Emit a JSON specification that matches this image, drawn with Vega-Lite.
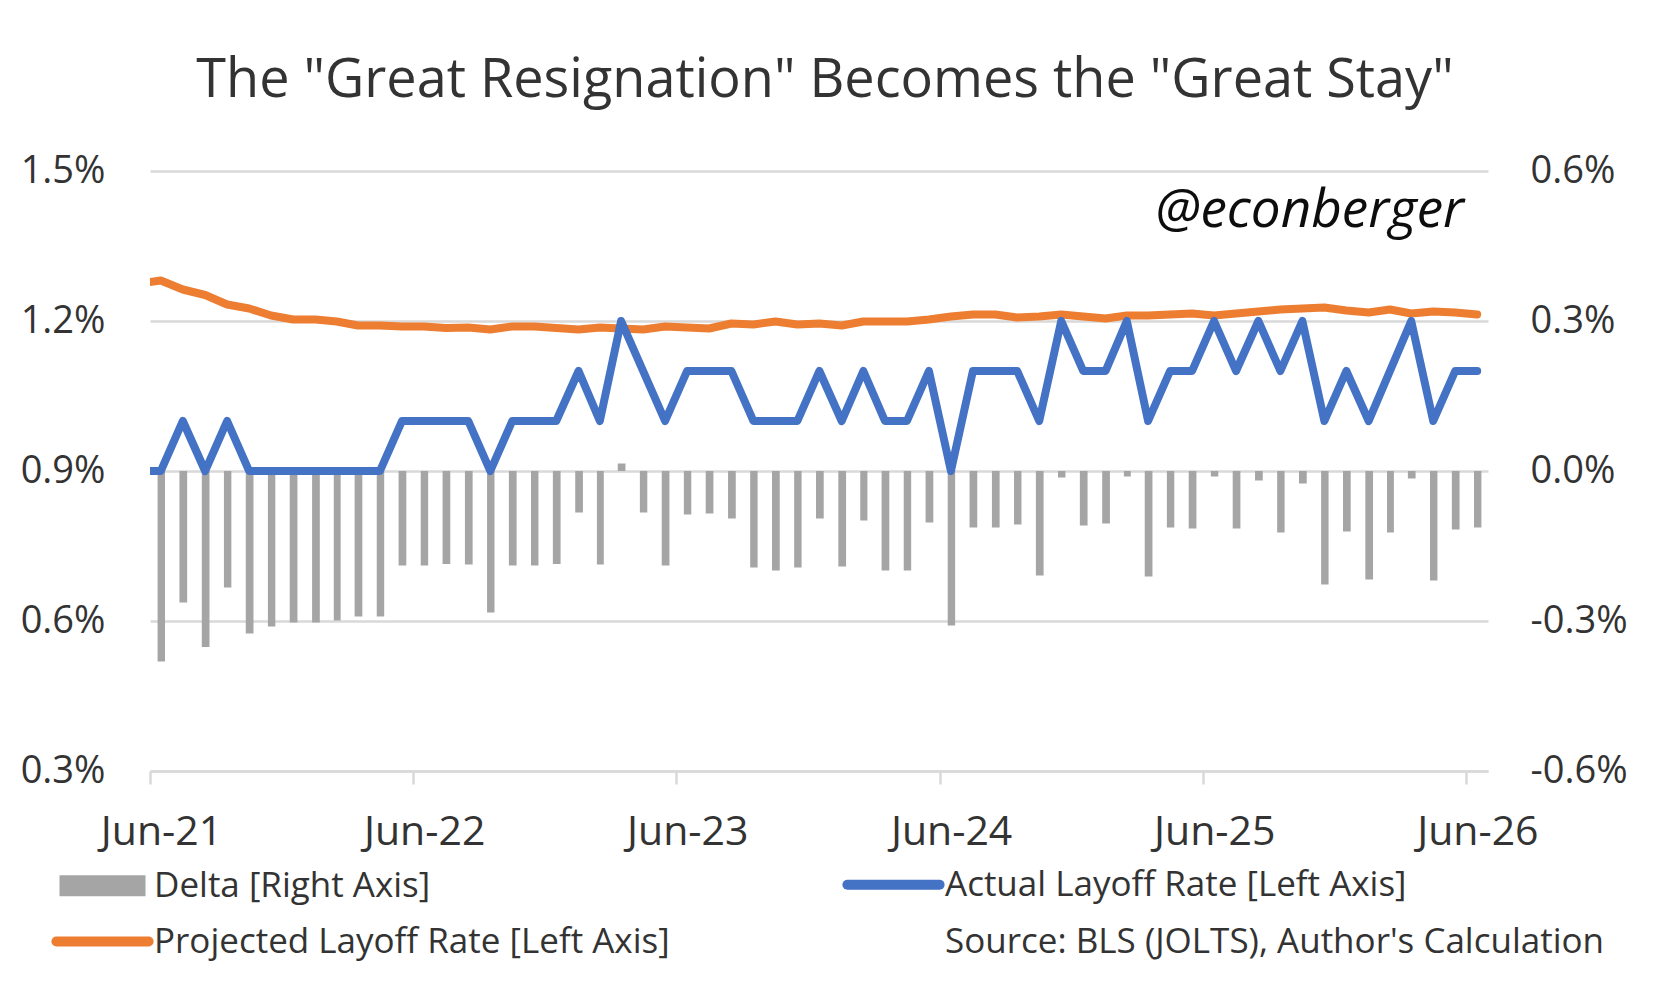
{
  "$schema": "https://vega.github.io/schema/vega-lite/v6.json",
  "width": 1338,
  "height": 600,
  "autosize": "none",
  "padding": {"left": 150, "top": 171, "right": 165, "bottom": 222},
  "background": "white",
  "title": {
    "text": "The \"Great Resignation\" Becomes the \"Great Stay\"",
    "font": "Open Sans",
    "fontSize": 54,
    "fontWeight": "normal",
    "color": "#333333",
    "anchor": "middle",
    "baseline": "alphabetic",
    "offset": 1,
    "dx": 6
  },
  "config": {
    "view": {"stroke": null},
    "font": "Open Sans",
    "axis": {
      "labelFont": "Open Sans",
      "labelFontSize": 38,
      "labelColor": "#333333",
      "title": null
    }
  },
  "data": {
    "values": [
      {"m": "2021-05-01", "actual": 0.009, "projected": 0.01275, "delta": null},
      {"m": "2021-06-01", "actual": 0.009, "projected": 0.01281, "delta": -0.00381},
      {"m": "2021-07-01", "actual": 0.010, "projected": 0.01263, "delta": -0.00263},
      {"m": "2021-08-01", "actual": 0.009, "projected": 0.01252, "delta": -0.00352},
      {"m": "2021-09-01", "actual": 0.010, "projected": 0.01233, "delta": -0.00233},
      {"m": "2021-10-01", "actual": 0.009, "projected": 0.01225, "delta": -0.00325},
      {"m": "2021-11-01", "actual": 0.009, "projected": 0.01211, "delta": -0.00311},
      {"m": "2021-12-01", "actual": 0.009, "projected": 0.01203, "delta": -0.00303},
      {"m": "2022-01-01", "actual": 0.009, "projected": 0.01203, "delta": -0.00303},
      {"m": "2022-02-01", "actual": 0.009, "projected": 0.01199, "delta": -0.00299},
      {"m": "2022-03-01", "actual": 0.009, "projected": 0.01191, "delta": -0.00291},
      {"m": "2022-04-01", "actual": 0.009, "projected": 0.01191, "delta": -0.00291},
      {"m": "2022-05-01", "actual": 0.010, "projected": 0.01189, "delta": -0.00189},
      {"m": "2022-06-01", "actual": 0.010, "projected": 0.01189, "delta": -0.00189},
      {"m": "2022-07-01", "actual": 0.010, "projected": 0.01186, "delta": -0.00186},
      {"m": "2022-08-01", "actual": 0.010, "projected": 0.01187, "delta": -0.00187},
      {"m": "2022-09-01", "actual": 0.009, "projected": 0.01183, "delta": -0.00283},
      {"m": "2022-10-01", "actual": 0.010, "projected": 0.01189, "delta": -0.00189},
      {"m": "2022-11-01", "actual": 0.010, "projected": 0.01189, "delta": -0.00189},
      {"m": "2022-12-01", "actual": 0.010, "projected": 0.01186, "delta": -0.00186},
      {"m": "2023-01-01", "actual": 0.011, "projected": 0.01183, "delta": -0.00083},
      {"m": "2023-02-01", "actual": 0.010, "projected": 0.01187, "delta": -0.00187},
      {"m": "2023-03-01", "actual": 0.012, "projected": 0.01185, "delta": 0.00015},
      {"m": "2023-04-01", "actual": 0.011, "projected": 0.01183, "delta": -0.00083},
      {"m": "2023-05-01", "actual": 0.010, "projected": 0.01189, "delta": -0.00189},
      {"m": "2023-06-01", "actual": 0.011, "projected": 0.01187, "delta": -0.00087},
      {"m": "2023-07-01", "actual": 0.011, "projected": 0.01185, "delta": -0.00085},
      {"m": "2023-08-01", "actual": 0.011, "projected": 0.01195, "delta": -0.00095},
      {"m": "2023-09-01", "actual": 0.010, "projected": 0.01193, "delta": -0.00193},
      {"m": "2023-10-01", "actual": 0.010, "projected": 0.01199, "delta": -0.00199},
      {"m": "2023-11-01", "actual": 0.010, "projected": 0.01193, "delta": -0.00193},
      {"m": "2023-12-01", "actual": 0.011, "projected": 0.01195, "delta": -0.00095},
      {"m": "2024-01-01", "actual": 0.010, "projected": 0.01191, "delta": -0.00191},
      {"m": "2024-02-01", "actual": 0.011, "projected": 0.01199, "delta": -0.00099},
      {"m": "2024-03-01", "actual": 0.010, "projected": 0.01199, "delta": -0.00199},
      {"m": "2024-04-01", "actual": 0.010, "projected": 0.01199, "delta": -0.00199},
      {"m": "2024-05-01", "actual": 0.011, "projected": 0.01203, "delta": -0.00103},
      {"m": "2024-06-01", "actual": 0.009, "projected": 0.01209, "delta": -0.00309},
      {"m": "2024-07-01", "actual": 0.011, "projected": 0.01213, "delta": -0.00113},
      {"m": "2024-08-01", "actual": 0.011, "projected": 0.01213, "delta": -0.00113},
      {"m": "2024-09-01", "actual": 0.011, "projected": 0.01207, "delta": -0.00107},
      {"m": "2024-10-01", "actual": 0.010, "projected": 0.01209, "delta": -0.00209},
      {"m": "2024-11-01", "actual": 0.012, "projected": 0.01213, "delta": -0.00013},
      {"m": "2024-12-01", "actual": 0.011, "projected": 0.01209, "delta": -0.00109},
      {"m": "2025-01-01", "actual": 0.011, "projected": 0.01205, "delta": -0.00105},
      {"m": "2025-02-01", "actual": 0.012, "projected": 0.01211, "delta": -0.00011},
      {"m": "2025-03-01", "actual": 0.010, "projected": 0.01211, "delta": -0.00211},
      {"m": "2025-04-01", "actual": 0.011, "projected": 0.01213, "delta": -0.00113},
      {"m": "2025-05-01", "actual": 0.011, "projected": 0.01215, "delta": -0.00115},
      {"m": "2025-06-01", "actual": 0.012, "projected": 0.01211, "delta": -0.00011},
      {"m": "2025-07-01", "actual": 0.011, "projected": 0.01215, "delta": -0.00115},
      {"m": "2025-08-01", "actual": 0.012, "projected": 0.01219, "delta": -0.00019},
      {"m": "2025-09-01", "actual": 0.011, "projected": 0.01223, "delta": -0.00123},
      {"m": "2025-10-01", "actual": 0.012, "projected": 0.01225, "delta": -0.00025},
      {"m": "2025-11-01", "actual": 0.010, "projected": 0.01227, "delta": -0.00227},
      {"m": "2025-12-01", "actual": 0.011, "projected": 0.01221, "delta": -0.00121},
      {"m": "2026-01-01", "actual": 0.010, "projected": 0.01217, "delta": -0.00217},
      {"m": "2026-02-01", "actual": 0.011, "projected": 0.01223, "delta": -0.00123},
      {"m": "2026-03-01", "actual": 0.012, "projected": 0.01215, "delta": -0.00015},
      {"m": "2026-04-01", "actual": 0.010, "projected": 0.01219, "delta": -0.00219},
      {"m": "2026-05-01", "actual": 0.011, "projected": 0.01217, "delta": -0.00117},
      {"m": "2026-06-01", "actual": 0.011, "projected": 0.01213, "delta": -0.00113}
    ]
  },
  "encoding": {
    "x": {
      "field": "m",
      "timeUnit": "utcyearmonth",
      "type": "temporal",
      "scale": {
        "domain": [
          {"year": 2021, "month": 6, "date": 1, "utc": true},
          {"year": 2026, "month": 7, "date": 1, "utc": true}
        ]
      },
      "axis": {
        "values": [
          {"year": 2021, "month": 6, "date": 1, "utc": true},
          {"year": 2022, "month": 6, "date": 1, "utc": true},
          {"year": 2023, "month": 6, "date": 1, "utc": true},
          {"year": 2024, "month": 6, "date": 1, "utc": true},
          {"year": 2025, "month": 6, "date": 1, "utc": true},
          {"year": 2026, "month": 6, "date": 1, "utc": true}
        ],
        "labelExpr": "utcFormat(datum.value, '%b-%y')",
        "labelFontSize": 41,
        "labelOffset": 11,
        "labelPadding": 28,
        "labelFlush": false,
        "labelOverlap": false,
        "grid": false,
        "domainColor": "#d9d9d9",
        "domainWidth": 2.5,
        "tickColor": "#d9d9d9",
        "tickWidth": 2.5,
        "tickSize": 13
      }
    }
  },
  "layer": [
    {
      "mark": {"type": "bar", "width": {"band": 0.39}, "color": "#a5a5a5"},
      "encoding": {
        "y": {
          "field": "delta",
          "type": "quantitative",
          "scale": {"domain": [-0.006, 0.006]},
          "axis": {
            "orient": "right",
            "values": [-0.006, -0.003, 0, 0.003, 0.006],
            "labelExpr": "replace(format(datum.value, '.1%'), '\u2212', '-')",
            "labelPadding": 42,
            "domain": false,
            "ticks": false,
            "grid": false
          }
        },
        "color": {
          "datum": "Delta [Right Axis]",
          "type": "nominal",
          "scale": {
            "domain": [
              "Delta [Right Axis]",
              "Projected Layoff Rate [Left Axis]",
              "Actual Layoff Rate [Left Axis]",
              "Source: BLS (JOLTS), Author's Calculation"
            ],
            "range": ["#a5a5a5", "#ed7d31", "#4472c4", "rgba(0,0,0,0)"]
          },
          "legend": {
            "orient": "none",
            "legendX": -65,
            "legendY": 696,
            "columns": 2,
            "title": null,
            "padding": 0,
            "labelFont": "Open Sans",
            "labelFontSize": 35,
            "labelColor": "#333333",
            "labelLimit": 0,
            "labelOffset": 34,
            "symbolType": "stroke",
            "symbolSize": 7396,
            "symbolStrokeWidth": 10,
            "rowPadding": 16,
            "columnPadding": 157,
            "encode": {
              "symbols": {
                "update": {
                  "shape": {"signal": "datum.value === 'Delta [Right Axis]' ? 'M-1,-0.244H1V0.244H-1Z' : 'stroke'"},
                  "stroke": {"signal": "datum.value === 'Delta [Right Axis]' ? 'transparent' : scale('color', datum.value)"},
                  "fill": {"signal": "datum.value === 'Delta [Right Axis]' ? scale('color', datum.value) : 'transparent'"},
                  "opacity": {"value": 1},
                  "strokeWidth": {"signal": "datum.value === 'Delta [Right Axis]' ? 0 : 10"},
                  "strokeCap": {"value": "round"},
                  "size": {"signal": "datum.value === 'Delta [Right Axis]' ? 7396 : 8500"}
                }
              }
            }
          }
        }
      }
    },
    {
      "mark": {"type": "line", "strokeWidth": 8, "strokeCap": "round", "strokeJoin": "round", "clip": true},
      "encoding": {
        "x": {"field": "m", "timeUnit": "utcyearmonth", "type": "temporal", "bandPosition": 0.5},
        "y": {
          "field": "projected",
          "type": "quantitative",
          "scale": {"domain": [0.003, 0.015]},
          "axis": {
            "orient": "left",
            "values": [0.003, 0.006, 0.009, 0.012, 0.015],
            "format": ".1%",
            "labelPadding": 45,
            "domain": false,
            "ticks": false,
            "grid": true,
            "gridColor": "#d9d9d9",
            "gridWidth": 2.5
          }
        },
        "color": {"datum": "Projected Layoff Rate [Left Axis]", "type": "nominal"}
      }
    },
    {
      "mark": {"type": "line", "strokeWidth": 8, "strokeCap": "round", "strokeJoin": "round", "clip": true},
      "encoding": {
        "x": {"field": "m", "timeUnit": "utcyearmonth", "type": "temporal", "bandPosition": 0.5},
        "y": {
          "field": "actual",
          "type": "quantitative",
          "scale": {"domain": [0.003, 0.015]},
          "axis": null
        },
        "color": {"datum": "Actual Layoff Rate [Left Axis]", "type": "nominal"}
      }
    },
    {
      "data": {"values": [{"m": "2026-05-01", "note": "@econberger"}]},
      "mark": {
        "type": "text",
        "font": "Open Sans",
        "fontStyle": "italic",
        "fontSize": 53,
        "align": "right",
        "baseline": "alphabetic",
        "dx": 20,
        "color": "#0d0d0d"
      },
      "encoding": {
        "text": {"field": "note", "type": "nominal"},
        "y": {"datum": 0.01388, "type": "quantitative", "scale": {"domain": [0.003, 0.015]}, "axis": null}
      }
    }
  ],
  "resolve": {"scale": {"y": "independent"}}
}
